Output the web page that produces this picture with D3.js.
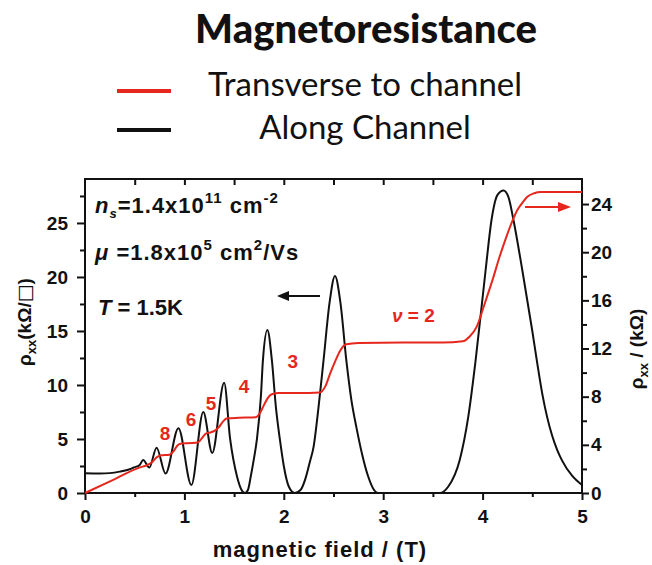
<!DOCTYPE html>
<html>
<head>
<meta charset="utf-8">
<script src="https://d3js.org/d3.v7.min.js"></script>
<style>
  body { margin: 0; background: #fff; }
  svg text { font-family: "Liberation Sans", Arial, sans-serif; font-weight: bold; fill: #111; }
</style>
</head>
<body>
<svg id="chart" width="652" height="565"></svg>
<script>
// rho_xx, along channel (left axis, kOhm/sq)
const alongB = [0, 0.15, 0.25, 0.35, 0.45, 0.49, 0.55, 0.585, 0.647, 0.72, 0.81, 0.94, 1.07, 1.19, 1.28, 1.40,
  1.46, 1.53, 1.58, 1.61, 1.64, 1.667, 1.70, 1.73, 1.77, 1.79, 1.835, 1.88, 1.92, 1.96, 2.00, 2.05, 2.11, 2.17,
  2.22, 2.26, 2.30, 2.35, 2.40, 2.46, 2.515, 2.57, 2.63, 2.68, 2.73, 2.79, 2.85, 2.90, 2.95, 3.25, 3.57, 3.655,
  3.77, 3.856, 3.93, 4.03, 4.09, 4.15, 4.21, 4.26, 4.31, 4.40, 4.50, 4.55, 4.60, 4.65, 4.70, 4.75, 4.80, 4.90, 5.00];
const alongR = [1.82, 1.80, 1.84, 1.98, 2.2, 2.36, 2.6, 3.05, 2.35, 4.2, 1.8, 6.0, 0.74, 7.5, 3.7, 10.2,
  5.0, 1.5, 0.2, 0, 0.3, 1.5, 3.2, 5.0, 9.0, 12.3, 15.1, 12.3, 8.0, 5.0, 2.5, 0.6, 0, 0.3,
  1.4, 2.8, 4.3, 8.0, 12.3, 17.6, 20.1, 17.6, 12.2, 8.6, 6.1, 3.5, 1.5, 0.4, 0, 0, 0, 0.6,
  3.06, 7.07, 12.3, 20.6, 25.3, 27.6, 28.0, 27.4, 25.3, 20.6, 15.0, 12.0, 9.2, 7.0, 5.3, 4.0, 3.0, 1.6, 0.74];

// rho_xy, transverse (right axis, kOhm)
const transB = [0, 0.3, 0.553, 0.62, 0.68, 0.72, 0.76, 0.85, 0.89, 0.93, 0.97, 1.08, 1.14, 1.18, 1.22, 1.27,
  1.31, 1.35, 1.39, 1.43, 1.55, 1.72, 1.76, 1.80, 1.84, 1.88, 1.95, 2.15, 2.36, 2.42, 2.465, 2.52, 2.565,
  2.63, 2.75, 3.2, 3.6, 3.80, 3.87, 3.94, 4.02, 4.10, 4.17, 4.24, 4.30, 4.35, 4.40, 4.45, 4.52, 4.58, 5.0];
const transR = [0, 1.16, 2.13, 2.3, 2.6, 2.96, 3.12, 3.18, 3.45, 3.95, 4.12, 4.15, 4.22, 4.6, 4.95, 5.05,
  5.2, 5.5, 5.95, 6.2, 6.25, 6.3, 6.65, 7.3, 7.9, 8.2, 8.3, 8.3, 8.35, 8.9, 9.9, 11.0, 11.8,
  12.35, 12.45, 12.5, 12.5, 12.6, 13.0, 13.8, 15.7, 17.7, 19.6, 21.3, 22.6, 23.5, 24.1, 24.6, 24.9, 25.0, 25.0];

const xTicks = [0, 1, 2, 3, 4, 5];
const leftTicks = [0, 5, 10, 15, 20, 25];
const rightTicks = [0, 4, 8, 12, 16, 20, 24];

// filling factor labels: text, field, rho_xy
const nuText = ["8", "6", "5", "4", "3"];
const nuB = [0.805, 1.066, 1.268, 1.60, 2.09];
const nuR = [4.4, 5.56, 6.89, 8.3, 10.38];

const red = "#e6271d";
const svg = d3.select("#chart");

const L = 85, R = 582, T = 179, Bt = 493;
const x = d3.scaleLinear().domain([0, 5]).range([L, R]);
const yL = d3.scaleLinear().domain([0, 29.07]).range([Bt, T]);
const yR = d3.scaleLinear().domain([0, 26.08]).range([Bt, T]);

// title + legend
svg.append("text").attr("x", 366).attr("y", 43).attr("text-anchor", "middle")
  .style("font-family", "Lato, 'Open Sans', sans-serif").style("font-size", "40px").style("font-weight", "900")
  .text("Magnetoresistance");

const legend = [["Transverse to channel", red, 91, 96], ["Along Channel", "#111", 130, 139]];
legend.forEach(([label, col, ly, ty]) => {
  svg.append("line").attr("x1", 117).attr("x2", 171).attr("y1", ly).attr("y2", ly)
    .attr("stroke", col).attr("stroke-width", 4);
  svg.append("text").attr("x", 365).attr("y", ty).attr("text-anchor", "middle")
    .style("font-family", "Lato, 'Open Sans', sans-serif").style("font-size", "33px").style("font-weight", "normal")
    .text(label);
});

function styleAxis(g) {
  g.select(".domain").remove();
  g.selectAll(".tick line").attr("stroke", "#111").attr("stroke-width", 2);
  g.selectAll(".tick text").style("font-size", "19px").attr("fill", "#111");
}

svg.append("g").attr("transform", `translate(0,${Bt})`)
  .call(d3.axisBottom(x).tickValues(xTicks).tickSize(7).tickPadding(10).tickFormat(d3.format("d"))).call(styleAxis);
svg.append("g").attr("transform", `translate(0,${Bt})`)
  .call(d3.axisBottom(x).tickValues(d3.range(0.5, 5, 1)).tickSize(4).tickFormat("")).call(styleAxis);
svg.append("g").attr("transform", `translate(0,${T})`)
  .call(d3.axisBottom(x).tickValues(d3.range(0.5, 5, 0.5)).tickSize(6).tickFormat("")).call(styleAxis);
svg.append("g").attr("transform", `translate(${L},0)`)
  .call(d3.axisLeft(yL).tickValues(leftTicks).tickSize(8).tickPadding(9)).call(styleAxis);
svg.append("g").attr("transform", `translate(${L},0)`)
  .call(d3.axisLeft(yL).tickValues(d3.range(2.5, 29, 5)).tickSize(5).tickFormat("")).call(styleAxis);
svg.append("g").attr("transform", `translate(${R},0)`)
  .call(d3.axisRight(yR).tickValues(rightTicks).tickSize(7).tickPadding(2)).call(styleAxis);
svg.append("g").attr("transform", `translate(${R},0)`)
  .call(d3.axisRight(yR).tickValues(d3.range(2, 26, 4)).tickSize(5).tickFormat("")).call(styleAxis);

svg.append("rect").attr("x", L).attr("y", T).attr("width", R - L).attr("height", Bt - T)
  .attr("fill", "none").attr("stroke", "#111").attr("stroke-width", 2);

// axis titles
svg.append("text").attr("x", 320).attr("y", 557).attr("text-anchor", "middle")
  .style("font-size", "22px").style("letter-spacing", "1px").text("magnetic field / (T)");

const ly = svg.append("text").attr("transform", "translate(31,322) rotate(-90)").attr("text-anchor", "middle")
  .style("font-size", "19px");
ly.append("tspan").text("ρ");
ly.append("tspan").attr("dy", 5).style("font-size", "13px").text("xx");
ly.append("tspan").attr("dy", -5).text("(kΩ/");
ly.append("tspan").style("font-family", "'DejaVu Sans', sans-serif").style("font-weight", "normal").text("□");
ly.append("tspan").text(")");

const ry = svg.append("text").attr("transform", "translate(643,349) rotate(-90)").attr("text-anchor", "middle")
  .style("font-size", "19px");
ry.append("tspan").text("ρ");
ry.append("tspan").attr("dy", 5).style("font-size", "13px").text("xx");
ry.append("tspan").attr("dy", -5).text(" / (kΩ)");

// curves
const lineAlong = d3.line().x((d, i) => x(alongB[i])).y((d, i) => yL(alongR[i])).curve(d3.curveMonotoneX);
const lineTrans = d3.line().x((d, i) => x(transB[i])).y((d, i) => yR(transR[i])).curve(d3.curveMonotoneX);

svg.append("path").attr("d", lineAlong(alongB)).attr("fill", "none").attr("stroke", "#111").attr("stroke-width", 2);
svg.append("path").attr("d", lineTrans(transB)).attr("fill", "none").attr("stroke", red).attr("stroke-width", 2);

// annotations
function sampleText(xp, yp, ls, parts) {
  const t = svg.append("text").attr("x", xp).attr("y", yp).style("font-size", "22px").style("letter-spacing", ls);
  parts.forEach(([s, dy, fs, it]) => {
    const sp = t.append("tspan").text(s);
    if (dy) sp.attr("dy", dy);
    if (fs) sp.style("font-size", fs + "px");
    if (it) sp.style("font-style", "italic");
  });
}
sampleText(95, 213, "1px", [["n", 0, 0, 1], ["s", 5, 13, 1], ["=1.4x10", -5], ["11", -10, 15], [" cm", 10], ["-2", -10, 15]]);
sampleText(95, 260, "1px", [["μ", 0, 0, 1], [" =1.8x10"], ["5", -10, 15], [" cm", 10], ["2", -10, 15], ["/Vs", 10]]);
sampleText(98, 315, "0px", [["T", 0, 0, 1], [" = 1.5K"]]);

// arrows
svg.append("line").attr("x1", 320).attr("x2", 286).attr("y1", 296).attr("y2", 296).attr("stroke", "#111").attr("stroke-width", 2);
svg.append("path").attr("d", "M277,296 L289,291 L289,301 Z").attr("fill", "#111");
svg.append("line").attr("x1", 525).attr("x2", 560).attr("y1", 207).attr("y2", 207).attr("stroke", red).attr("stroke-width", 2);
svg.append("path").attr("d", "M571,207 L558,202 L558,212 Z").attr("fill", red);

// filling factors
nuText.forEach((s, i) => {
  svg.append("text").attr("x", x(nuB[i])).attr("y", yR(nuR[i])).attr("text-anchor", "middle")
    .style("font-size", "19px").style("fill", red).text(s);
});
const nu2 = svg.append("text").attr("x", 392).attr("y", 322).style("font-size", "19px").style("fill", red);
nu2.append("tspan").style("font-style", "italic").text("ν");
nu2.append("tspan").text(" = 2");
</script>
</body>
</html>
